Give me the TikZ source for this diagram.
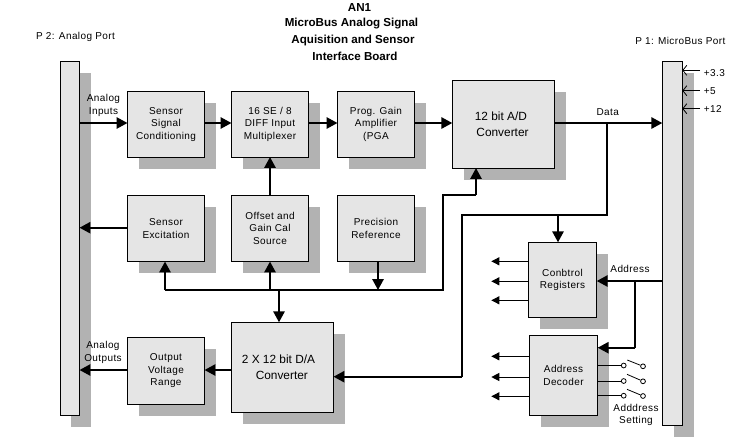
\documentclass[tikz,border=0pt]{standalone}
\usepackage{fontspec}
\setmainfont{Liberation Sans}
\newfontfamily\labfam[LetterSpace=4]{Liberation Sans}
\newfontfamily\ttlfam[BoldFont={Liberation Sans Bold}]{Liberation Sans}
\usetikzlibrary{arrows.meta,shadows}
\definecolor{shade}{HTML}{B2B2B2}
\definecolor{boxfill}{HTML}{E5E5E5}
\tikzset{
  base/.style={anchor=north west,draw=black,fill=boxfill,line width=.75pt,inner sep=0pt,outer sep=0pt,
    align=center,font=\labfam\fontsize{7.5pt}{9.5pt}\selectfont},
  drop/.style={general shadow={fill=shade,draw=none,shadow xshift=8.6pt,shadow yshift=-8.8pt}},
  blk/.style n args={2}{base,drop,minimum width=#1*.75pt,minimum height=#2*.75pt},
  big/.style={font=\rmfamily\fontsize{8.9pt}{11.8pt}\selectfont},
  lab/.style={inner sep=0pt,align=center,font=\labfam\fontsize{7.5pt}{9.5pt}\selectfont},
  ttl/.style={inner sep=0pt,font=\ttlfam\bfseries\fontsize{8.7pt}{10pt}\selectfont},
  conn/.style={line width=1.6pt,-{Triangle[length=8.2pt,width=8.4pt]}},
  plain/.style={line width=1.6pt},
  thin/.style={line width=.75pt,-{Triangle[length=6pt,width=6pt]}},
  wire/.style={line width=.75pt},
  pow/.style={line width=.75pt,-{Straight Barb[length=3pt,width=7.5pt,line width=.6pt]}},
  swc/.style={circle,draw=black,fill=white,line width=.6pt,inner sep=0pt,minimum size=3.6pt},
  sw/.style={line width=.6pt},
}
\begin{document}
\begin{tikzpicture}[x=.75pt,y=-.75pt]
\path[use as bounding box,fill=white] (0,0) rectangle (737,440);
% ports
\node[blk={19.5}{354}] (lp) at (60,61) {};
\node[blk={20}{364.3}] (rp) at (662.3,61) {};
% blocks
\node[blk={77}{65.5}] (sens) at (127.5,91.5) {Sensor\\Signal\\Conditioning};
\node[blk={77}{65.5}] (mux) at (231.5,91.5) {16 SE / 8\\DIFF Input\\Multiplexer};
\node[blk={77}{65.5}] (pga) at (337.5,91.5) {Prog. Gain\\Amplifier\\(PGA};
\node[blk={102.4}{88},big] (ad) at (452.3,80) {12 bit A/D\kern4pt\\Converter\kern1.5pt};
\node[blk={77}{66.5}] (exc) at (127.5,195) {Sensor\\Excitation};
\node[blk={77}{66.5}] (off) at (231.5,195) {Offset and\\Gain Cal\\Source};
\node[blk={77}{66.5}] (prec) at (337.5,195) {Precision\\Reference};
\node[blk={102}{90},big] (da) at (231.5,322.3) {2 X 12 bit D/A\kern6pt\\Converter\kern1pt};
\node[blk={77}{67}] (out) at (127.5,337.3) {Output\\Voltage\\Range};
\node[blk={68.4}{75}] (ctl) at (528.3,242.3) {Conbtrol\\Registers};
\node[blk={68.4}{80}] (dec) at (529.3,335.3) {Address\\Decoder};
% titles
\node[ttl] (t1) at (359.5,8) {AN1};
\node[ttl] (t2) at (351.5,24) {MicroBus Analog Signal};
\node[ttl] (t3) at (353,40) {Aquisition and Sensor};
\node[ttl] (t4) at (355,56) {Interface Board};
% labels
\node[lab] (p2) at (75.5,36.7) {P 2: Analog Port};
\node[lab] (p1) at (680.3,41) {P 1: MicroBus Port};
\node[lab] (ai) at (103.5,105.5) {Analog\\Inputs};
\node[lab] (ao) at (103,352.5) {Analog\\Outputs};
\node[lab] (data) at (607.7,112) {Data};
\node[lab] (addr) at (630,268.7) {Address};
\node[lab] (aset) at (636,415) {Adddress\\Setting};
\node[lab,anchor=west] (v33) at (703.7,73) {+3.3};
\node[lab,anchor=west] (v5) at (703.7,91) {+5};
\node[lab,anchor=west] (v12) at (703.7,109.5) {+12};
% helper coordinates
\coordinate (rowa) at (0,123);
\coordinate (rowb) at (0,227.7);
\coordinate (rowout) at (0,370);
\coordinate (bus) at (0,290);
\coordinate (colexc) at (165,0);
\coordinate (coloff) at (270,0);
\coordinate (colda) at (279,0);
\coordinate (colprec) at (378,0);
\coordinate (up) at (443.3,195);
\coordinate (busr) at (443.3,290);
\coordinate (adin) at (476,0);
\coordinate (data1) at (607,215);
\coordinate (data0) at (607,0);
\coordinate (dl) at (462,215);
\coordinate (dd) at (462,376.7);
\coordinate (ctlin) at (558,215);
\coordinate (rowaddr) at (0,281);
\coordinate (adbr) at (635,281);
\coordinate (adcr) at (635,347.7);
% top row
\draw[conn] (lp.east |- rowa) -- (sens.west |- rowa);
\draw[conn] (sens.east |- rowa) -- (mux.west |- rowa);
\draw[conn] (mux.east |- rowa) -- (pga.west |- rowa);
\draw[conn] (pga.east |- rowa) -- (ad.west |- rowa);
\draw[conn] (ad.east |- rowa) -- (rp.west |- rowa);
% second row
\draw[conn] (off.north -| coloff) -- (mux.south -| coloff);
\draw[conn] (exc.west |- rowb) -- (lp.east |- rowb);
% bus
\draw[plain] (colexc |- bus) -- (busr) -- (up) -- (up -| adin);
\draw[conn] (up -| adin) -- (ad.south -| adin);
\draw[conn] (colexc |- bus) -- (exc.south -| colexc);
\draw[conn] (coloff |- bus) -- (off.south -| coloff);
\draw[conn] (colda |- bus) -- (da.north -| colda);
\draw[conn] (prec.south -| colprec) -- (colprec |- bus);
% outputs
\draw[conn] (da.west |- rowout) -- (out.east |- rowout);
\draw[conn] (out.west |- rowout) -- (lp.east |- rowout);
% data branch
\draw[plain] (data0 |- rowa) -- (data1) -- (dl) -- (dd);
\draw[conn] (dd) -- (da.east |- dd);
\draw[conn] (ctlin) -- (ctl.north -| ctlin);
% address
\draw[conn] (rp.west |- rowaddr) -- (ctl.east |- rowaddr);
\draw[plain] (adbr) -- (adcr);
\draw[conn] (adcr) -- (dec.east |- adcr);
% control outputs
\coordinate (ox) at (491.3,0);
\coordinate (r1) at (0,261.3);\coordinate (r2) at (0,281.3);\coordinate (r3) at (0,300.3);
\coordinate (r4) at (0,356.3);\coordinate (r5) at (0,377);\coordinate (r6) at (0,396.3);
\draw[thin] (ctl.west |- r1) -- (ox |- r1);
\draw[thin] (ctl.west |- r2) -- (ox |- r2);
\draw[thin] (ctl.west |- r3) -- (ox |- r3);
\draw[thin] (dec.west |- r4) -- (ox |- r4);
\draw[thin] (dec.west |- r5) -- (ox |- r5);
\draw[thin] (dec.west |- r6) -- (ox |- r6);
% switches
\node[swc] (s1a) at (623.7,365.5) {};
\node[swc] (s2a) at (623.7,381) {};
\node[swc] (s3a) at (623.7,395.7) {};
\node[swc] (s1b) at (643,366.3) {};
\node[swc] (s2b) at (643,381.3) {};
\node[swc] (s3b) at (643,396) {};
\draw[wire] (dec.east |- s1a) -- (s1a);
\draw[wire] (dec.east |- s2a) -- (s2a);
\draw[wire] (dec.east |- s3a) -- (s3a);
\coordinate (w1a) at (627.3,360);\coordinate (w2a) at (627,374.3);\coordinate (w3a) at (627,389.3);
\draw[sw] (w1a) -- (s1b);
\draw[sw] (w2a) -- (s2b);
\draw[sw] (w3a) -- (s3b);
% power
\coordinate (pa) at (700,70.3);\coordinate (pb) at (700,90.7);\coordinate (pc) at (700,108.7);
\draw[pow] (pa) -- (rp.east |- pa);
\draw[pow] (pb) -- (rp.east |- pb);
\draw[pow] (pc) -- (rp.east |- pc);
\end{tikzpicture}
\end{document}
